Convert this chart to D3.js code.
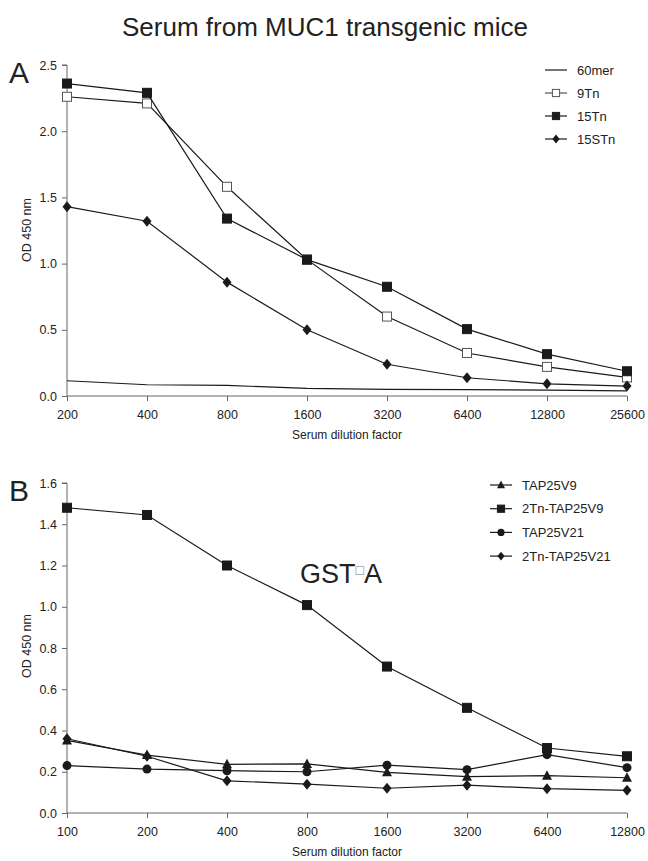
<!DOCTYPE html>
<html>
<head>
<meta charset="utf-8">
<script src="https://cdn.jsdelivr.net/npm/d3@7"></script>
<style>
    body { margin: 0; background: #fff; }
    svg { font-family: "Liberation Sans", Arial, sans-serif; }
    .Axis path, .Axis line { stroke: #666; }
    .Axis text { font-size: 12.5px; fill: #222; }
</style>
</head>
<body>
<svg id="chart" width="648" height="861"></svg>
<script>

// panel A
const dilutions_a = ["200", "400", "800", "1600", "3200", "6400", "12800", "25600"];
const y_ticks_a = [0, 0.5, 1.0, 1.5, 2.0, 2.5];
const mer60 = [0.115, 0.085, 0.08, 0.057, 0.05, 0.048, 0.045, 0.038];
const tn9 = [2.26, 2.21, 1.58, 1.03, 0.6, 0.325, 0.22, 0.14];
const tn15 = [2.36, 2.29, 1.34, 1.03, 0.825, 0.505, 0.316, 0.187];
const stn15 = [1.43, 1.32, 0.86, 0.5, 0.24, 0.138, 0.092, 0.075];

// panel B
const dilutions_b = ["100", "200", "400", "800", "1600", "3200", "6400", "12800"];
const y_ticks_b = [0, 0.2, 0.4, 0.6, 0.8, 1.0, 1.2, 1.4, 1.6];
const tap25v9 = [0.352, 0.281, 0.236, 0.238, 0.197, 0.176, 0.181, 0.171];
const tn2_tap25v9 = [1.48, 1.445, 1.2, 1.008, 0.71, 0.51, 0.315, 0.275];
const tap25v21 = [0.23, 0.213, 0.205, 0.2, 0.232, 0.21, 0.283, 0.22];
const tn2_tap25v21 = [0.36, 0.275, 0.156, 0.14, 0.12, 0.135, 0.118, 0.11];

const series_a = [
    {name: "60mer", values: mer60, marker: "none"},
    {name: "9Tn", values: tn9, marker: "open_square"},
    {name: "15Tn", values: tn15, marker: "square"},
    {name: "15STn", values: stn15, marker: "diamond"}
];

const series_b = [
    {name: "TAP25V9", values: tap25v9, marker: "triangle"},
    {name: "2Tn-TAP25V9", values: tn2_tap25v9, marker: "square"},
    {name: "TAP25V21", values: tap25v21, marker: "circle"},
    {name: "2Tn-TAP25V21", values: tn2_tap25v21, marker: "diamond"}
];

const svg = d3.select("#chart");

svg.append("text")
    .attr("x", 325).attr("y", 36)
    .attr("text-anchor", "middle")
    .style("font-size", "26px")
    .style("fill", "#222")
    .text("Serum from MUC1 transgenic mice");

const draw_marker = function (g, kind, x, y, k = 1) {
    if (kind === "square" || kind === "open_square") {
        const s = 4.5 * k;
        g.append("rect")
            .attr("x", x - s).attr("y", y - s)
            .attr("width", 2 * s).attr("height", 2 * s)
            .attr("fill", kind === "square" ? "#1a1a1a" : "#fff")
            .attr("stroke", kind === "square" ? "#1a1a1a" : "#555")
            .attr("stroke-width", 1);
    } else if (kind === "diamond") {
        g.append("path")
            .attr("d", `M${x},${y - 5.5 * k}L${x + 4.5 * k},${y}L${x},${y + 5.5 * k}L${x - 4.5 * k},${y}Z`)
            .attr("fill", "#1a1a1a");
    } else if (kind === "circle") {
        g.append("circle")
            .attr("cx", x).attr("cy", y).attr("r", 4.5 * k)
            .attr("fill", "#1a1a1a");
    } else if (kind === "triangle") {
        g.append("path")
            .attr("d", `M${x},${y - 5.5 * k}L${x + 5 * k},${y + 4 * k}L${x - 5 * k},${y + 4 * k}Z`)
            .attr("fill", "#1a1a1a");
    }
};

const draw_panel = function (opts) {

    const x = d3.scalePoint().domain(opts.categories).range([67, 627]);
    const y = d3.scaleLinear().domain(opts.y_domain).range([opts.bottom, opts.top]);

    const g = svg.append("g");

    g.append("g")
        .attr("class", "Axis")
        .attr("transform", `translate(0,${opts.bottom})`)
        .call(d3.axisBottom(x).tickSize(5).tickPadding(9))
        .call(a => a.select(".domain").attr("d", `M67,0H627`));

    g.append("g")
        .attr("class", "Axis")
        .attr("transform", "translate(67,0)")
        .call(d3.axisLeft(y).tickValues(opts.y_ticks).tickFormat(d3.format(".1f")).tickSize(5).tickPadding(5))
        .call(a => a.select(".domain").attr("d", `M-5,${opts.top}H0V${opts.bottom}`));

    g.append("text")
        .attr("x", 347).attr("y", opts.bottom + 43)
        .attr("text-anchor", "middle")
        .style("font-size", "12px").style("fill", "#222")
        .text("Serum dilution factor");

    g.append("text")
        .attr("transform", `translate(31,${opts.label_y}) rotate(-90)`)
        .attr("text-anchor", "middle")
        .style("font-size", "12.5px").style("fill", "#222")
        .text("OD 450 nm");

    g.append("text")
        .attr("x", 9).attr("y", opts.top + 18)
        .style("font-size", "30px").style("fill", "#222")
        .text(opts.letter);

    const line = d3.line()
        .x((d, i) => x(opts.categories[i]))
        .y(d => y(d));

    opts.series.forEach(s => {
        g.append("path")
            .attr("d", line(s.values))
            .attr("fill", "none")
            .attr("stroke", "#1a1a1a")
            .attr("stroke-width", 1.2);
        const mg = g.append("g");
        s.values.forEach((v, i) => draw_marker(mg, s.marker, x(opts.categories[i]), y(v)));
    });

    // legend
    const legend = g.append("g");
    opts.series.forEach((s, i) => {
        const ly = opts.legend_y + i * opts.legend_step;
        legend.append("line")
            .attr("x1", opts.legend_x).attr("x2", opts.legend_x + 22)
            .attr("y1", ly).attr("y2", ly)
            .attr("stroke", s.marker === "open_square" ? "#555" : "#1a1a1a")
            .attr("stroke-width", 1.2);
        draw_marker(legend, s.marker, opts.legend_x + 11, ly, 0.8);
        legend.append("text")
            .attr("x", opts.legend_x + 32).attr("y", ly + 4.5)
            .style("font-size", "13px").style("fill", "#222")
            .text(s.name);
    });
};

draw_panel({
    categories: dilutions_a,
    y_domain: [0, 2.5],
    y_ticks: y_ticks_a,
    top: 65,
    bottom: 396,
    label_y: 230,
    letter: "A",
    series: series_a,
    legend_x: 545,
    legend_y: 70,
    legend_step: 23
});

draw_panel({
    categories: dilutions_b,
    y_domain: [0, 1.6],
    y_ticks: y_ticks_b,
    top: 483,
    bottom: 813,
    label_y: 646,
    letter: "B",
    series: series_b,
    legend_x: 490,
    legend_y: 485,
    legend_step: 23.7
});

// annotation with a missing-glyph box, as in the source figure
const note = svg.append("text")
    .attr("x", 300).attr("y", 583)
    .style("font-size", "27px").style("fill", "#222");
note.append("tspan").text("GST");
note.append("tspan").attr("dy", -8).style("font-size", "14px").style("fill", "#777").text("\u25A1");
note.append("tspan").attr("dy", 8).text("A");

</script>
</body>
</html>
